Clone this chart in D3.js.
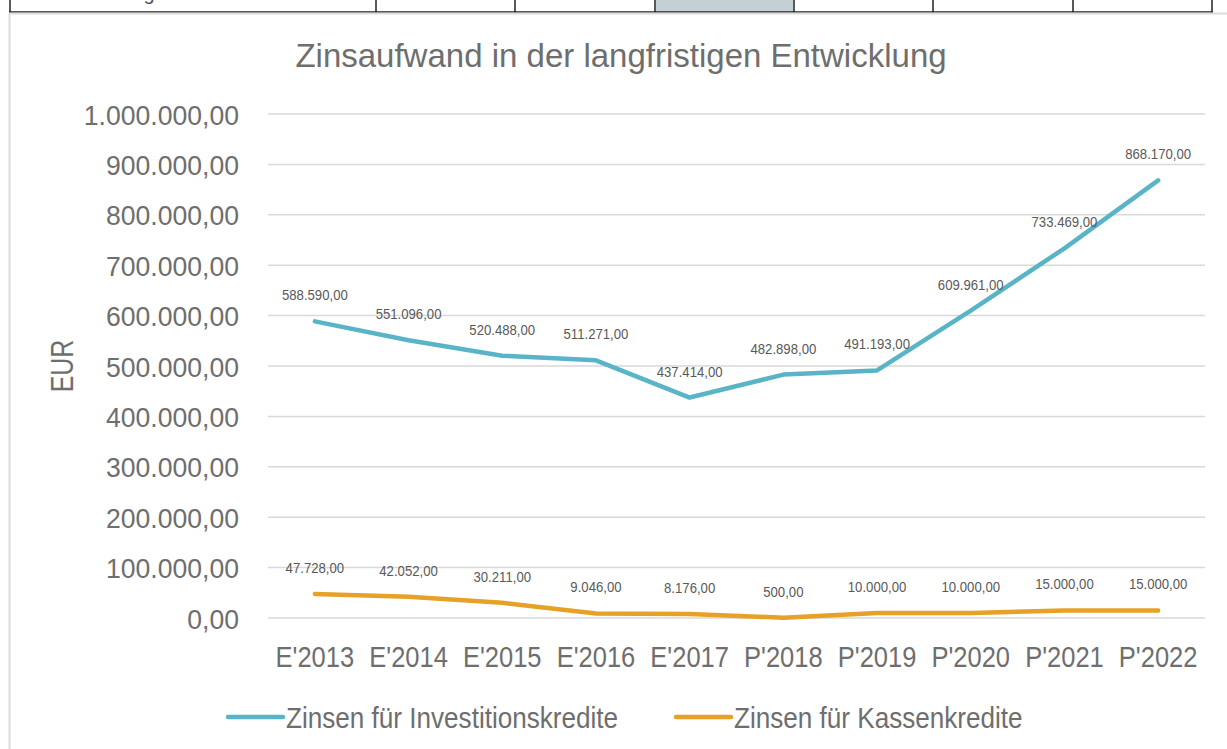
<!DOCTYPE html>
<html><head><meta charset="utf-8">
<script src="https://cdn.jsdelivr.net/npm/d3@7"></script>
<style>
html,body{margin:0;padding:0;background:#fff;}
svg{display:block;font-family:"Liberation Sans",Arial,sans-serif;}
</style></head>
<body>
<svg id="c" width="1227" height="749"></svg>
<script>
const categories = ["E'2013","E'2014","E'2015","E'2016","E'2017","P'2018","P'2019","P'2020","P'2021","P'2022"];
const investValues = [588590, 551096, 520488, 511271, 437414, 482898, 491193, 609961, 733469, 868170];
const kassenValues = [47728, 42052, 30211, 9046, 8176, 500, 10000, 10000, 15000, 15000];
const seriesNames = ["Zinsen für Investitionskredite", "Zinsen für Kassenkredite"];
const yTicks = [0,100000,200000,300000,400000,500000,600000,700000,800000,900000,1000000];
const titleText = "Zinsaufwand in der langfristigen Entwicklung";
const yTitle = "EUR";

const colors = ["#5ab4c8", "#e6a126"];
const de = d3.formatLocale({decimal:",", thousands:".", grouping:[3], currency:["","€"]});
const fmt = de.format(",.2f");

const svg = d3.select("#c");

// spreadsheet fragment at top
const tableCols = [10, 376, 515, 655, 794, 933, 1073, 1212];
svg.append("rect").attr("x",656).attr("y",0).attr("width",137).attr("height",12).attr("fill","#c5d0d6");
svg.append("text").attr("x",30).attr("y",0).attr("font-size",20).attr("fill","#555").text("Zinsbelastung");
tableCols.forEach(x=>svg.append("line").attr("x1",x).attr("x2",x).attr("y1",0).attr("y2",12.5)
  .attr("stroke","#222").attr("stroke-width",1.5));
svg.append("line").attr("x1",9).attr("x2",1213).attr("y1",12).attr("y2",12).attr("stroke","#222").attr("stroke-width",1.5);
// chart area border
svg.append("line").attr("x1",9).attr("x2",1227).attr("y1",13.5).attr("y2",13.5).attr("stroke","#dcdcdc").attr("stroke-width",2);
svg.append("line").attr("x1",9.5).attr("x2",9.5).attr("y1",13).attr("y2",749).attr("stroke","#dcdcdc").attr("stroke-width",2);

const x = d3.scaleBand().domain(categories).range([268,1205]);
const y = d3.scaleLinear().domain([0,1000000]).range([618,114]);
const cx = d => x(d) + x.bandwidth()/2;

// gridlines
svg.append("g").selectAll("line").data(yTicks).join("line")
  .attr("x1",268).attr("x2",1205).attr("y1",d=>y(d)).attr("y2",d=>y(d))
  .attr("stroke","#d9d9d9").attr("stroke-width",1.5);

// y axis labels
const yAxis = d3.axisLeft(y).tickValues(yTicks).tickFormat(fmt).tickSize(0).tickPadding(0);
const gy = svg.append("g").attr("transform","translate(239,0)").call(yAxis);
gy.select(".domain").remove();
gy.selectAll("text").attr("font-size",28).attr("fill","#6e6e6e")
  .attr("font-family","Liberation Sans, Arial, sans-serif")
  .attr("dy","0.36em");
gy.selectAll(".tick").each(function(){
  const t=d3.select(this); t.attr("transform", t.attr("transform") + " scale(0.95,1)");
});

// x axis labels
const xAxis = d3.axisBottom(x).tickSize(0).tickPadding(0);
const gx = svg.append("g").attr("transform","translate(0,667)").call(xAxis);
gx.select(".domain").remove();
gx.selectAll(".tick").each(function(){
  const t=d3.select(this); t.attr("transform", t.attr("transform")+" scale(0.85,1)");
});
gx.selectAll("text").attr("font-size",30).attr("fill","#6e6e6e").attr("dy",0).attr("y",0)
  .attr("font-family","Liberation Sans, Arial, sans-serif");

// title
svg.append("text").attr("x",621).attr("y",67).attr("text-anchor","middle")
  .attr("font-size",33).attr("fill","#6e6e6e").text(titleText);

// y title
svg.append("text").attr("transform","translate(73,366) rotate(-90) scale(0.78,1)")
  .attr("text-anchor","middle").attr("font-size",32).attr("fill","#6e6e6e").text(yTitle);

// lines
const line = d3.line().x((d,i)=>cx(categories[i])).y(d=>y(d));
[investValues,kassenValues].forEach((vals,k)=>{
  svg.append("path").datum(vals).attr("d",line).attr("fill","none")
    .attr("stroke",colors[k]).attr("stroke-width",4.5)
    .attr("stroke-linejoin","round").attr("stroke-linecap","round");
  svg.append("g").selectAll("text").data(vals).join("text")
    .attr("transform",(d,i)=>`translate(${cx(categories[i])},${y(d)-21}) scale(0.94,1)`)
    .attr("text-anchor","middle").attr("font-size",14).attr("fill","#595959")
    .text(d=>fmt(d));
});

// legend
const legendX = [228, 676];
seriesNames.forEach((n,k)=>{
  const g = svg.append("g").attr("transform",`translate(${legendX[k]},717)`);
  g.append("line").attr("x1",0).attr("x2",55).attr("y1",0).attr("y2",0)
    .attr("stroke",colors[k]).attr("stroke-width",4.5).attr("stroke-linecap","round");
  g.append("text").attr("transform","translate(58,11) scale(0.87,1)")
    .attr("font-size",30).attr("fill","#6e6e6e").text(n);
});
</script>
</body></html>
